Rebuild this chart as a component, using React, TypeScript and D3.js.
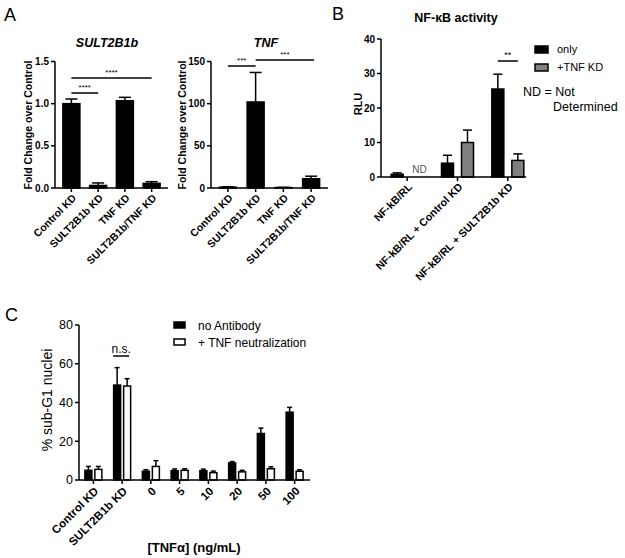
import React from "react";
import * as d3 from "d3";

const FONT = "'Liberation Sans', Arial, Helvetica, sans-serif";

// Panel A
const aCats = ["Control KD", "SULT2B1b KD", "TNF KD", "SULT2B1b/TNF KD"];
const sultMean = [1.0, 0.03, 1.035, 0.055];
const sultErr = [0.055, 0.03, 0.04, 0.02];
const sultTicks = [0, 0.5, 1.0, 1.5];
const tnfMean = [1, 102, 0.5, 11];
const tnfErr = [0.5, 35, 0.3, 3];
const tnfTicks = [0, 50, 100, 150];

// Panel B
const bCats = ["NF-kB/RL", "NF-kB/RL + Control KD", "NF-kB/RL + SULT2B1b KD"];
const bOnly = [0.8, 4, 25.5];
const bOnlyErr = [0.4, 2.3, 4.3];
const bTnf: (number | null)[] = [null, 10, 4.8];
const bTnfErr: (number | null)[] = [null, 3.6, 1.9];
const bTicks = [0, 10, 20, 30, 40];

// Panel C
const cCats = ["Control KD", "SULT2B1b KD", "0", "5", "10", "20", "50", "100"];
const cNoAb = [5, 49, 4.5, 4.8, 4.8, 8.8, 24, 35];
const cNoAbErr = [2, 9, 0.8, 0.9, 0.8, 0.7, 2.8, 2.5];
const cNeut = [5.5, 48.5, 7, 5, 3.8, 4.2, 5.8, 4.5];
const cNeutErr = [1.5, 3.8, 3, 0.8, 0.8, 0.8, 1, 0.8];
const cTicks = [0, 20, 40, 60, 80];

const SW = 1.5;

function ErrBar({ x, y1, y2, w }: { x: number; y1: number; y2: number; w: number }) {
  return (
    <g stroke="#000" strokeWidth={SW}>
      <line x1={x} x2={x} y1={y1} y2={y2} />
      <line x1={x - w / 2} x2={x + w / 2} y1={y2} y2={y2} />
    </g>
  );
}

function YAxis({ x, y, ticks, fmt, fs, bold, len = 4 }: any) {
  const [y0, y1] = y.range();
  return (
    <g>
      <line x1={x} x2={x} y1={y0} y2={y1} stroke="#000" strokeWidth={SW} />
      {ticks.map((t: number) => (
        <g key={t}>
          <line x1={x - len} x2={x} y1={y(t)} y2={y(t)} stroke="#000" strokeWidth={SW} />
          <text x={x - len - 2} y={y(t)} dy="0.35em" textAnchor="end" fontSize={fs} fontWeight={bold ? "bold" : "normal"}>
            {fmt(t)}
          </text>
        </g>
      ))}
    </g>
  );
}

function PanelA({ x0, x1, title, titleX, labelX, mean, err, ticks, fmt, ymax }: any) {
  const y = d3.scaleLinear().domain([0, ymax]).range([188, 61.5]);
  const xs = d3.scalePoint<string>().domain(aCats).range([x0 + 3, x1 - 3]).padding(0.5);
  const bw = 17;
  return (
    <g>
      <text x={titleX} y={47} textAnchor="middle" fontSize={12.5} fontWeight="bold" fontStyle="italic">
        {title}
      </text>
      <text transform={`translate(${labelX},125) rotate(-90)`} textAnchor="middle" fontSize={10.5} fontWeight="bold">
        Fold Change over Control
      </text>
      {aCats.map((c, i) => {
        const cx = xs(c)!;
        return (
          <g key={c}>
            <rect x={cx - bw / 2} width={bw} y={y(mean[i])} height={y(0) - y(mean[i])} fill="#000" stroke="#000" strokeWidth={SW} />
            <ErrBar x={cx} y1={y(mean[i])} y2={y(mean[i] + err[i])} w={12} />
            <line x1={cx} x2={cx} y1={188} y2={192} stroke="#000" strokeWidth={SW} />
            <text transform={`translate(${cx + 3},${196}) rotate(-45)`} dy="0.35em" textAnchor="end" fontSize={10.5} fontWeight="bold">
              {c}
            </text>
          </g>
        );
      })}
      <line x1={x0} x2={x1} y1={188} y2={188} stroke="#000" strokeWidth={SW} />
      <YAxis x={x0} y={y} ticks={ticks} fmt={fmt} fs={10} bold />
    </g>
  );
}

function Sig({ x1, x2, y, label, fs = 8 }: any) {
  return (
    <g>
      <line x1={x1} x2={x2} y1={y} y2={y} stroke="#000" strokeWidth={SW} />
      <text x={(x1 + x2) / 2} y={y - 3} textAnchor="middle" fontSize={fs}>
        {label}
      </text>
    </g>
  );
}

export default function App() {
  const xsL = d3.scalePoint<string>().domain(aCats).range([58, 165]).padding(0.5);
  const xsR = d3.scalePoint<string>().domain(aCats).range([214, 325]).padding(0.5);

  const yB = d3.scaleLinear().domain([0, 40]).range([177, 39]);
  const xB = d3.scalePoint<string>().domain(bCats).range([382, 533]).padding(0.5);
  const bOff = 10;
  const bBw = 12;

  const yC = d3.scaleLinear().domain([0, 80]).range([480, 325]);
  const xC = d3.scalePoint<string>().domain(cCats).range([79, 309]).padding(0.5);
  const cOff = 5;
  const cBw = 7;

  return (
    <svg width={625} height={558} style={{ position: "absolute", left: 0, top: 0, display: "block", fontFamily: FONT }} fontFamily={FONT}>
      <rect x={0} y={0} width={625} height={558} fill="#fff" />
      {/* Panel letters */}
      <text x={4} y={21} fontSize={18}>A</text>
      <text x={332} y={20} fontSize={18}>B</text>
      <text x={5} y={321} fontSize={18}>C</text>

      {/* Panel A */}
      <PanelA x0={55} x1={168} title="SULT2B1b" titleX={107} labelX={32} mean={sultMean} err={sultErr}
        ticks={sultTicks} fmt={(d: number) => d.toFixed(1)} ymax={1.5} />
      <PanelA x0={211} x1={328} title="TNF" titleX={266} labelX={186} mean={tnfMean} err={tnfErr}
        ticks={tnfTicks} fmt={(d: number) => String(d)} ymax={150} />
      <Sig x1={xsL(aCats[0])} x2={xsL(aCats[1])} y={93} label="****" />
      <Sig x1={xsL(aCats[0])} x2={xsL(aCats[3])} y={78} label="****" />
      <Sig x1={xsR(aCats[0])} x2={xsR(aCats[1])} y={66} label="***" />
      <Sig x1={xsR(aCats[1])} x2={xsR(aCats[3]) + 3} y={60} label="***" />

      {/* Panel B */}
      <text x={456} y={22} textAnchor="middle" fontSize={12.5} fontWeight="bold">NF-κB activity</text>
      <text transform="translate(362,104) rotate(-90)" textAnchor="middle" fontSize={11} fontWeight="bold">RLU</text>
      {bCats.map((c, i) => {
        const cx = xB(c)!;
        return (
          <g key={c}>
            <rect x={cx - bOff - bBw / 2} width={bBw} y={yB(bOnly[i])} height={yB(0) - yB(bOnly[i])} fill="#000" stroke="#000" strokeWidth={SW} />
            <ErrBar x={cx - bOff} y1={yB(bOnly[i])} y2={yB(bOnly[i] + bOnlyErr[i])} w={9} />
            {bTnf[i] != null && (
              <g>
                <rect x={cx + bOff - bBw / 2} width={bBw} y={yB(bTnf[i]!)} height={yB(0) - yB(bTnf[i]!)} fill="#808080" stroke="#000" strokeWidth={SW} />
                <ErrBar x={cx + bOff} y1={yB(bTnf[i]!)} y2={yB(bTnf[i]! + bTnfErr[i]!)} w={9} />
              </g>
            )}
            <line x1={cx} x2={cx} y1={177} y2={181} stroke="#000" strokeWidth={SW} />
            <text transform={`translate(${cx + 3},${185}) rotate(-45)`} dy="0.35em" textAnchor="end" fontSize={10.7} fontWeight="bold">
              {c}
            </text>
          </g>
        );
      })}
      <text x={xB(bCats[0])! + 5} y={173} fontSize={10} fill="#555">ND</text>
      <line x1={381} x2={526} y1={177} y2={177} stroke="#000" strokeWidth={SW} />
      <YAxis x={381} y={yB} ticks={bTicks} fmt={(d: number) => String(d)} fs={10} bold />
      <Sig x1={xB(bCats[2])! - bOff} x2={xB(bCats[2])! + bOff} y={61} label="**" fs={9} />
      <rect x={535} y={46} width={13} height={7} fill="#000" stroke="#000" strokeWidth={SW} />
      <text x={557} y={49.5} dy="0.35em" fontSize={11}>only</text>
      <rect x={535} y={64} width={13} height={7} fill="#808080" stroke="#000" strokeWidth={SW} />
      <text x={557} y={67.5} dy="0.35em" fontSize={11}>+TNF KD</text>
      <text x={523} y={96} fontSize={12.5}>ND = Not</text>
      <text x={553} y={111} fontSize={12.5}>Determined</text>

      {/* Panel C */}
      <text transform="translate(52,400) rotate(-90)" textAnchor="middle" fontSize={14}>% sub-G1 nuclei</text>
      {cCats.map((c, i) => {
        const cx = xC(c)!;
        return (
          <g key={c}>
            <rect x={cx - cOff - cBw / 2} width={cBw} y={yC(cNoAb[i])} height={yC(0) - yC(cNoAb[i])} fill="#000" stroke="#000" strokeWidth={SW} />
            <ErrBar x={cx - cOff} y1={yC(cNoAb[i])} y2={yC(cNoAb[i] + cNoAbErr[i])} w={5} />
            <rect x={cx + cOff - cBw / 2} width={cBw} y={yC(cNeut[i])} height={yC(0) - yC(cNeut[i])} fill="#fff" stroke="#000" strokeWidth={SW} />
            <ErrBar x={cx + cOff} y1={yC(cNeut[i])} y2={yC(cNeut[i] + cNeutErr[i])} w={5} />
            <line x1={cx} x2={cx} y1={480} y2={484} stroke="#000" strokeWidth={SW} />
            <text transform={`translate(${cx + 3},${489}) rotate(-45)`} dy="0.35em" textAnchor="end" fontSize={11.5} fontWeight="bold">
              {c}
            </text>
          </g>
        );
      })}
      <line x1={79} x2={310} y1={480} y2={480} stroke="#000" strokeWidth={SW} />
      <YAxis x={79} y={yC} ticks={cTicks} fmt={(d: number) => String(d)} fs={12.5} />
      <Sig x1={xC(cCats[1])! - 9} x2={xC(cCats[1])! + 7} y={356} label="n.s." fs={12} />
      <rect x={174} y={322} width={11} height={6} fill="#000" stroke="#000" strokeWidth={SW} />
      <text x={198} y={325.5} dy="0.35em" fontSize={12}>no Antibody</text>
      <rect x={174} y={339} width={11} height={6} fill="#fff" stroke="#000" strokeWidth={SW} />
      <text x={198} y={342.5} dy="0.35em" fontSize={12}>+ TNF neutralization</text>
      <text x={194} y={552} textAnchor="middle" fontSize={13} fontWeight="bold">[TNFα] (ng/mL)</text>
    </svg>
  );
}
